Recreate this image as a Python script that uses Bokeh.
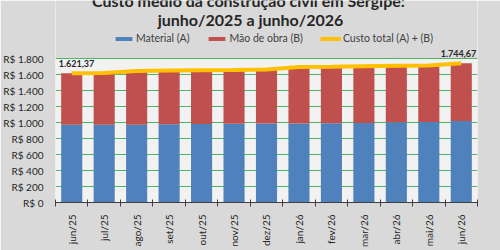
from bokeh.plotting import figure
from bokeh.models import (FixedTicker, Legend, LegendItem, Label, Range1d, BoxAnnotation)
from bokeh.embed import file_html
from bokeh.resources import INLINE

months = ["jun/25", "jul/25", "ago/25", "set/25", "out/25", "nov/25", "dez/25",
          "jan/26", "fev/26", "mar/26", "abr/26", "mai/26", "jun/26"]
material = [974, 975, 976, 980, 985, 986, 990, 991, 995, 996, 1005, 1010, 1022]
total = [1621.37, 1623, 1650, 1656, 1658, 1660, 1668, 1698, 1702, 1708, 1714, 1718, 1744.67]
mao_de_obra = [t - m for t, m in zip(total, material)]
y_ticks = [0, 200, 400, 600, 800, 1000, 1200, 1400, 1600, 1800]
y_tick_labels = ["R$ 0", "R$ 200", "R$ 400", "R$ 600", "R$ 800", "R$ 1.000",
                 "R$ 1.200", "R$ 1.400", "R$ 1.600", "R$ 1.800"]
series_names = ["Material (A)", "Mão de obra (B)", "Custo total (A) + (B)"]
title_lines = ["Custo médio da construção civil em Sergipe:", "junho/2025 a junho/2026"]
first_label = "1.621,37"
last_label = "1.744,67"

FONT = "Lato"
OUTER = "#d9d9d9"
xs = [i + 0.5 for i in range(len(months))]

# frame spans from the canvas top down to the x axis; the band above the
# value axis maximum is painted as outer background
y_max = y_ticks[-1]
px_per_unit = 145.0 / y_max
y_top = y_max + 59 / px_per_unit

p = figure(width=500, height=250, output_backend="svg", toolbar_location=None,
           x_range=Range1d(0, len(months)), y_range=Range1d(0, y_top),
           min_border_left=55, min_border_right=23, min_border_top=0, min_border_bottom=46)
p.background_fill_color = "#f2f2f2"
p.border_fill_color = OUTER
p.outline_line_color = None

p.add_layout(BoxAnnotation(bottom=y_max, fill_color=OUTER, fill_alpha=1,
                           line_color=None, level="image"))

src = dict(x=xs, material=material, mao=mao_de_obra)
bars = p.vbar_stack(["material", "mao"], x="x", width=0.65, source=src,
                    color=["#4f81bd", "#c0504d"], line_color=None)
ln = p.line(xs, total, line_color="#ffc000", line_width=4)

# axes
p.xaxis.ticker = FixedTicker(ticks=xs, minor_ticks=list(range(len(months) + 1)))
p.xaxis.major_label_overrides = {x: m for x, m in zip(xs, months)}
p.xaxis.major_label_orientation = 3.14159 / 2
p.xaxis.major_tick_line_color = None
p.xaxis.minor_tick_line_color = "#404040"
p.xaxis.minor_tick_in = 3
p.xaxis.minor_tick_out = 4
p.xaxis.axis_line_color = "#404040"
p.xaxis.major_label_text_font = FONT
p.xaxis.major_label_text_font_size = "10px"
p.xaxis.major_label_text_color = "#262626"
p.xaxis.major_label_standoff = 6

p.yaxis.ticker = FixedTicker(ticks=y_ticks)
p.yaxis.major_label_overrides = {t: l for t, l in zip(y_ticks, y_tick_labels)}
p.yaxis.axis_line_color = None
p.yaxis.major_tick_line_color = None
p.yaxis.minor_tick_line_color = None
p.yaxis.major_label_text_font = FONT
p.yaxis.major_label_text_font_size = "10px"
p.yaxis.major_label_text_color = "#262626"
p.yaxis.major_label_standoff = 6

p.xgrid.grid_line_color = None
p.ygrid.grid_line_color = "#4cb464"
p.ygrid.grid_line_width = 1

legend = Legend(items=[LegendItem(label=series_names[0], renderers=[bars[0]]),
                       LegendItem(label=series_names[1], renderers=[bars[1]]),
                       LegendItem(label=series_names[2], renderers=[ln])],
                orientation="horizontal", location=(58, 158),
                background_fill_alpha=0, border_line_color=None,
                glyph_width=21, glyph_height=5, label_text_font=FONT,
                label_text_font_size="10.5px", label_text_color="#404040",
                label_standoff=2, spacing=17, padding=0, margin=0,
                label_height=10)
p.add_layout(legend, "center")

# titles
p.add_layout(Label(x=193, y=202, x_units="screen", y_units="screen", text=title_lines[0],
                   text_align="center", text_baseline="alphabetic", text_font=FONT,
                   text_font_style="bold", text_font_size="16px", text_color="#262626"))
p.add_layout(Label(x=195, y=183, x_units="screen", y_units="screen", text=title_lines[1],
                   text_align="center", text_baseline="alphabetic", text_font=FONT,
                   text_font_style="bold", text_font_size="16px", text_color="#262626"))

# data labels
p.add_layout(Label(x=xs[0], y=total[0], x_offset=-13, y_offset=6, text=first_label,
                   text_align="left", text_baseline="bottom", text_font=FONT,
                   text_font_style="bold", text_font_size="9px", text_color="#262626"))
p.add_layout(Label(x=xs[-1], y=total[-1], x_offset=15, y_offset=6, text=last_label,
                   text_align="right", text_baseline="bottom", text_font=FONT,
                   text_font_style="bold", text_font_size="9px", text_color="#262626"))

open("out.html", "w").write(file_html(p, INLINE))
